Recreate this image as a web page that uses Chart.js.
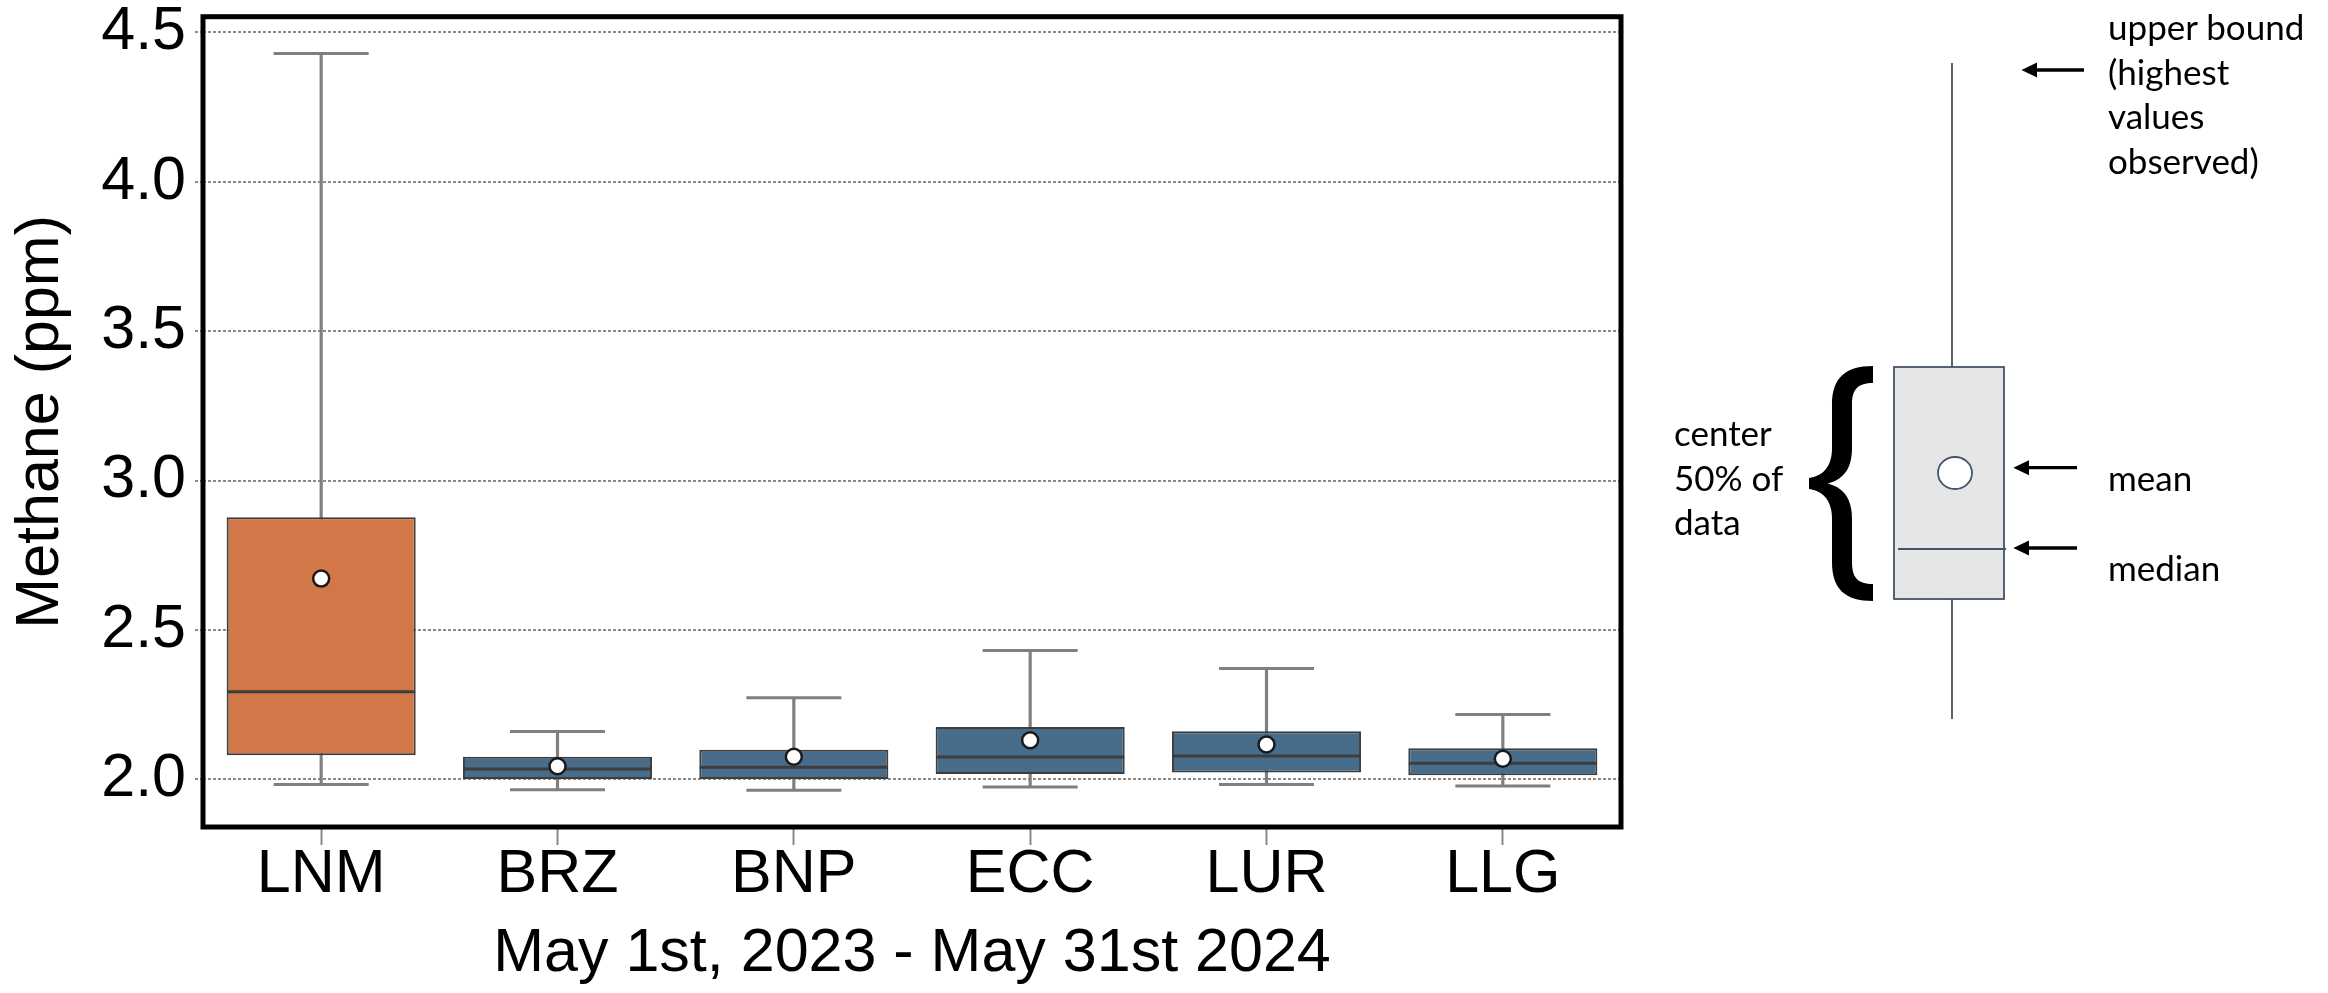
<!DOCTYPE html>
<html>
<head>
<meta charset="utf-8">
<script src="https://cdn.jsdelivr.net/npm/chart.js@4.4.1/dist/chart.umd.min.js"></script>
<style>
  html, body { margin: 0; padding: 0; background: #ffffff; width: 2328px; height: 993px; overflow: hidden; }
  #wrap { position: absolute; left: 0; top: 0; width: 1660px; height: 993px; }
  #anno { position: absolute; left: 0; top: 0; pointer-events: none; }
  #anno text { font-family: Lato, "Open Sans", sans-serif; font-size: 35px; fill: #000; }
</style>
</head>
<body>
<div id="wrap"><canvas id="c" width="1660" height="993"></canvas></div>

<svg id="anno" width="2328" height="993" xmlns="http://www.w3.org/2000/svg">
  <!-- schematic box plot key -->
  <line x1="1952" y1="63" x2="1952" y2="367" stroke="#44546A" stroke-width="1.8"/>
  <line x1="1952" y1="599" x2="1952" y2="719" stroke="#44546A" stroke-width="1.8"/>
  <rect x="1894" y="367" width="110" height="232" fill="#E6E6E6" stroke="#44546A" stroke-width="1.8"/>
  <line x1="1898" y1="549" x2="2006" y2="549" stroke="#44546A" stroke-width="1.8"/>
  <ellipse cx="1955" cy="473" rx="17" ry="16" fill="#ffffff" stroke="#44546A" stroke-width="1.8"/>
  <path fill="#000" d="M 1873 366 C 1845 366, 1832 378, 1832 405 L 1832 448 C 1832 468, 1822 476, 1809 478 L 1809 489 C 1822 491, 1832 499, 1832 519 L 1832 562 C 1832 589, 1845 601, 1873 601 L 1873 584 C 1858 584, 1852 578, 1852 562 L 1852 519 C 1852 500, 1845 488, 1828 483.5 C 1845 479, 1852 467, 1852 448 L 1852 405 C 1852 389, 1858 383, 1873 383 Z"/>
  <!-- arrows -->
  <line x1="2034" y1="70" x2="2084" y2="70" stroke="#000" stroke-width="3.3"/>
  <polygon points="2021.5,70 2037,62.5 2037,77.5" fill="#000"/>
  <line x1="2026" y1="467.7" x2="2077" y2="467.7" stroke="#000" stroke-width="3.3"/>
  <polygon points="2013.3,467.7 2029,460.2 2029,475.2" fill="#000"/>
  <line x1="2026" y1="548" x2="2077" y2="548" stroke="#000" stroke-width="3.3"/>
  <polygon points="2013.3,548 2029,540.5 2029,555.5" fill="#000"/>
  <!-- labels -->
  <text x="2108" y="40">upper bound</text>
  <text x="2108" y="84.5">(highest</text>
  <text x="2108" y="129">values</text>
  <text x="2108" y="173.5">observed)</text>
  <text x="1674" y="446">center</text>
  <text x="1674" y="491">50% of</text>
  <text x="1674" y="535">data</text>
  <text x="2108" y="491">mean</text>
  <text x="2108" y="581">median</text>
</svg>

<script>
// ---- data ----
const categories   = ['LNM', 'BRZ', 'BNP', 'ECC', 'LUR', 'LLG'];
const lowerWhisker = [1.983, 1.965, 1.964, 1.975, 1.983, 1.978];
const q1Values     = [2.081, 2.001, 2.001, 2.018, 2.023, 2.014];
const medianValues = [2.293, 2.035, 2.041, 2.075, 2.078, 2.054];
const q3Values     = [2.877, 2.076, 2.099, 2.175, 2.161, 2.104];
const upperWhisker = [4.429, 2.160, 2.273, 2.431, 2.371, 2.217];
const meanValues   = [2.672, 2.044, 2.076, 2.131, 2.117, 2.069];
const yTicks       = [2.0, 2.5, 3.0, 3.5, 4.0, 4.5];
const xTitle = 'May 1st, 2023 - May 31st 2024';
const yTitle = 'Methane (ppm)';

// ---- styling ----
const boxColors = ['#D27748', '#486D8B', '#486D8B', '#486D8B', '#486D8B', '#486D8B'];
const FONT = 'Liberation Sans, Arial, Helvetica, sans-serif';
const GRID = '#8a8a8a';

const lo = Math.min(...lowerWhisker), hi = Math.max(...upperWhisker);
const margin = 0.05 * (hi - lo);

const framePlugin = {
  id: 'frame',
  afterDatasetsDraw(chart) {
    const { ctx, chartArea: a } = chart;
    ctx.save();
    ctx.strokeStyle = '#000';
    ctx.lineWidth = 5;
    ctx.strokeRect(a.left, a.top, a.right - a.left, a.bottom - a.top);
    ctx.restore();
  }
};

function zeroPad(s) { s.paddingTop = 0; s.paddingBottom = 0; s.paddingLeft = 0; s.paddingRight = 0; }

new Chart(document.getElementById('c'), {
  type: 'bar',
  data: {
    labels: categories,
    datasets: [
      {
        type: 'bar', label: 'whisker',
        data: categories.map((c, i) => [lowerWhisker[i], upperWhisker[i]]),
        backgroundColor: '#7f7f7f', borderWidth: 0,
        barThickness: 2.5, grouped: false, order: 5
      },
      {
        type: 'bar', label: 'box',
        data: categories.map((c, i) => [q1Values[i], q3Values[i]]),
        backgroundColor: boxColors, borderColor: '#3d3d3d', borderWidth: 2,
        borderSkipped: false, barPercentage: 0.8, categoryPercentage: 1.0,
        grouped: false, order: 4
      },
      {
        type: 'line', label: 'upper cap', data: upperWhisker, showLine: false,
        pointStyle: 'line', pointRadius: 47.5, pointBorderColor: '#7f7f7f', pointBorderWidth: 3, order: 3
      },
      {
        type: 'line', label: 'lower cap', data: lowerWhisker, showLine: false,
        pointStyle: 'line', pointRadius: 47.5, pointBorderColor: '#7f7f7f', pointBorderWidth: 3, order: 3
      },
      {
        type: 'line', label: 'median', data: medianValues, showLine: false,
        pointStyle: 'line', pointRadius: 94, pointBorderColor: '#3d3d3d', pointBorderWidth: 3, order: 2
      },
      {
        type: 'line', label: 'mean', data: meanValues, showLine: false,
        pointStyle: 'circle', pointRadius: 8, pointBackgroundColor: '#ffffff',
        pointBorderColor: '#1a1a1a', pointBorderWidth: 2.5, order: 1
      }
    ]
  },
  options: {
    responsive: false,
    animation: false,
    devicePixelRatio: 1,
    events: [],
    layout: { autoPadding: false, padding: { left: 0, top: 16.7, right: 39, bottom: 0 } },
    plugins: { legend: { display: false }, tooltip: { enabled: false } },
    scales: {
      x: {
        type: 'category', offset: true,
        grid: { offset: false, drawOnChartArea: false, drawTicks: true, tickLength: 18, tickColor: GRID, tickWidth: 2 },
        border: { display: false },
        ticks: { color: '#000', font: { family: FONT, size: 61, lineHeight: 1 }, padding: 0, maxRotation: 0, autoSkip: false },
        title: { display: true, text: xTitle, color: '#000', font: { family: FONT, size: 61, lineHeight: 1 }, padding: { top: 0, bottom: 8.5 } },
        afterFit(s) { s.height = 166; zeroPad(s); }
      },
      y: {
        type: 'linear', min: lo - margin, max: hi + margin,
        afterBuildTicks(s) { s.ticks = yTicks.map(v => ({ value: v })); },
        grid: { color: GRID, lineWidth: 2, tickLength: 8, tickColor: GRID, tickWidth: 2, tickBorderDash: [3, 2] },
        border: { display: false, dash: [3, 2] },
        ticks: { color: '#000', font: { family: FONT, size: 61, lineHeight: 1 }, padding: 9, callback: v => Number(v).toFixed(1) },
        title: { display: true, text: yTitle, color: '#000', font: { family: FONT, size: 61, lineHeight: 1 }, padding: { top: 11, bottom: 0 } },
        afterFit(s) { s.width = 203; zeroPad(s); }
      }
    }
  },
  plugins: [framePlugin]
});
</script>
</body>
</html>
